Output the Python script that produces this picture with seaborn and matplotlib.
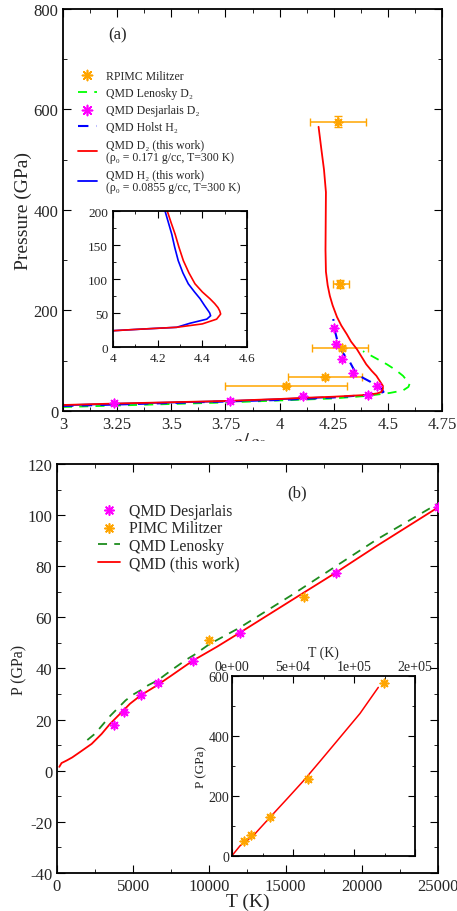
import matplotlib
matplotlib.use("Agg")
import matplotlib.pyplot as plt
from matplotlib.ticker import MultipleLocator, FuncFormatter
from matplotlib.patches import Rectangle
import seaborn as sns

# ---- panel (a): Hugoniot, pressure vs compression ----
d2_rho = [3.0, 3.25, 3.5, 3.75, 4.0, 4.1, 4.25, 4.4, 4.45, 4.47, 4.477, 4.477, 4.465, 4.447, 4.425,
          4.40, 4.357, 4.33, 4.31, 4.285, 4.265, 4.245, 4.232, 4.222, 4.214, 4.212, 4.213, 4.214, 4.205, 4.193, 4.18]
d2_p = [12, 15, 17.5, 20, 24, 26, 28.5, 32, 35, 38, 44, 50, 58, 70, 80,
        93, 123, 138, 153, 170, 187, 210, 229, 250, 277, 320, 380, 435, 480, 520, 565]
h2_rho = [3.0, 3.25, 3.5, 3.75, 4.0, 4.2]
h2_p = [11.5, 14.5, 17, 19.5, 23.5, 27]
ins_d2_rho = [4.0, 4.136, 4.285, 4.40, 4.464, 4.482, 4.478, 4.47, 4.455, 4.434, 4.40, 4.367, 4.34, 4.315, 4.295, 4.278, 4.26, 4.243]
ins_d2_p = [24, 26.5, 29, 34, 41, 48.5, 53, 58, 64, 71, 81, 93, 109, 127, 147, 166, 183, 200]
ins_h2_rho = [4.0, 4.136, 4.285, 4.345, 4.42, 4.437, 4.433, 4.427, 4.41, 4.39, 4.365, 4.337, 4.313, 4.292, 4.276, 4.263, 4.248, 4.233]
ins_h2_p = [24, 26.5, 29, 35, 41, 46, 50, 53, 61, 71, 81, 93, 109, 127, 147, 166, 183, 200]
holst_rho = [3.0, 3.25, 3.5, 3.75, 4.0, 4.25, 4.4, 4.46, 4.48, 4.47, 4.42, 4.385, 4.357, 4.34, 4.325,
             4.31, 4.29, 4.275, 4.265, 4.255, 4.248]
holst_p = [10, 13, 16, 19, 22, 27, 32, 35, 38, 44, 58, 66, 74, 85, 97, 105, 117, 130, 143, 160, 183]
lenosky_rho = [3.0, 3.25, 3.5, 3.75, 4.0, 4.25, 4.4, 4.51, 4.57, 4.595, 4.60, 4.585, 4.57, 4.535, 4.495, 4.44, 4.385]
lenosky_p = [8, 11, 14, 17, 21, 25, 30, 36, 41, 48, 54, 62, 70, 82, 93, 106, 119]
desj_rho = [3.235, 3.77, 4.11, 4.41, 4.45, 4.34, 4.29, 4.26, 4.25]
desj_p = [16, 20, 30, 32, 50, 76, 104, 133, 165]
rpimc_rho = [4.03, 4.21, 4.29, 4.28, 4.27]
rpimc_p = [50, 67, 126, 252, 575]
rpimc_xlo = [3.75, 4.04, 4.15, 4.245, 4.14]
rpimc_xhi = [4.31, 4.38, 4.41, 4.32, 4.40]
rpimc_perr = [3, 3, 4, 8, 11]

# ---- panel (b): pressure vs temperature ----
b_desj_t = [3750, 4400, 5500, 6600, 8900, 12000, 18300, 25000]
b_desj_p = [18, 23, 29.5, 34.5, 43, 54, 77.5, 103]
b_pimc_t = [10000, 16200]
b_pimc_p = [51, 68]
b_len_t = [1990, 2500, 3000, 3500, 4000, 4500, 5000, 5500, 6000, 6600, 7500, 8500, 9000, 10000,
           12000, 15480, 18300, 21000, 25000]
b_len_p = [12, 14.5, 18, 21.5, 24.5, 27.5, 29.8, 31.5, 33.5, 35.3, 39.3, 43.5, 45.3, 49.5,
           56, 69, 80, 90.5, 104.5]
b_red_t = [150, 300, 636, 1000, 1509, 2275, 2930, 3478, 4243, 4790, 5500, 6540, 7500, 8900,
           10500, 12000, 15480, 18300, 21000, 25000]
b_red_p = [1.5, 3, 4, 5.2, 7.3, 10.5, 14.4, 18.3, 22.9, 26.2, 29.5, 33.3, 37.2, 43,
           48.5, 54, 67, 77.5, 88, 103]
ins_t = [0, 1100, 6560, 17460, 31150, 45000, 58440, 72000, 85800, 104900, 119900]
ins_p = [0, 6.7, 34, 68, 129, 190, 250, 315, 382, 475, 562]
ins_pimc_t = [9840, 15570, 31150, 62570, 124800]
ins_pimc_p = [51, 71, 129, 257, 577]

ORANGE = "#FFA500"
MAGENTA = "#FF00FF"
AST = (8, 2, 0)

sns.set_style("ticks")
plt.rcParams["font.family"] = ["Liberation Serif", "DejaVu Serif"]
plt.rcParams["mathtext.fontset"] = "stix"
plt.rcParams["axes.linewidth"] = 1.3
plt.rcParams["axes.unicode_minus"] = False


def style(ax, xmaj, xmin, ymaj, ymin, size=9):
    ax.xaxis.set_major_locator(MultipleLocator(xmaj))
    ax.xaxis.set_minor_locator(MultipleLocator(xmin))
    ax.yaxis.set_major_locator(MultipleLocator(ymaj))
    ax.yaxis.set_minor_locator(MultipleLocator(ymin))
    ax.tick_params(which="both", direction="in", top=True, right=True, labelsize=size, color="black")
    ax.tick_params(which="major", length=6)
    ax.tick_params(which="minor", length=3)
    for s in ax.spines.values():
        s.set_color("black")


def line(x, y, ax, **kw):
    sns.lineplot(x=x, y=y, ax=ax, sort=False, estimator=None, **kw)


def stars(x, y, ax, color, s=36, **kw):
    sns.scatterplot(x=x, y=y, ax=ax, marker=AST, s=s, color=color, edgecolor=color, linewidth=1.2,
                    zorder=5, **kw)


fig = plt.figure(figsize=(4.57, 9.12), dpi=100)

# ---------- (a) ----------
ax = fig.add_axes([0.1379, 0.5482, 0.8293, 0.4413])
for lo, hi, x, y, e in zip(rpimc_xlo, rpimc_xhi, rpimc_rho, rpimc_p, rpimc_perr):
    ax.errorbar(x, y, xerr=[[x - lo], [hi - x]], yerr=e, fmt="none", ecolor=ORANGE, elinewidth=1.1, capsize=3)
stars(rpimc_rho, rpimc_p, ax, ORANGE, label="RPIMC Militzer")
line(lenosky_rho, lenosky_p, ax, color="#00FF00", linestyle=(0, (5, 4)), linewidth=1.3, label="QMD Lenosky D₂")
stars(desj_rho, desj_p, ax, MAGENTA, label="QMD Desjarlais D₂")
line(h2_rho, h2_p, ax, color="#0000FF", linewidth=1.3,
     label="QMD H₂ (this work)\n(ρ₀ = 0.0855 g/cc, T=300 K)")
line(holst_rho, holst_p, ax, color="#0000FF", linestyle=(0, (5, 4)), linewidth=1.5, label="QMD Holst H₂")
line(d2_rho, d2_p, ax, color="#FF0000", linewidth=1.3,
     label="QMD D₂ (this work)\n(ρ₀ = 0.171 g/cc, T=300 K)")
h, l = ax.get_legend_handles_labels()
order = [0, 1, 2, 4, 5, 3]
leg = ax.legend([h[i] for i in order], [l[i] for i in order], loc="upper left", bbox_to_anchor=(0.011, 0.875),
                frameon=False, fontsize=8.5, handlelength=1.6, handletextpad=0.8, labelspacing=0.45,
                markerscale=1.2)
for t in leg.get_texts():
    t.set_linespacing(1.05)
ax.set_xlim(3, 4.75)
ax.set_ylim(0, 800)
style(ax, 0.25, 0.125, 200, 100, size=12)
ax.set_xticks([3, 3.25, 3.5, 3.75, 4, 4.25, 4.5, 4.75])
ax.set_xticklabels(["3", "3.25", "3.5", "3.75", "4", "4.25", "4.5", "4.75"])
ax.set_ylabel("Pressure (GPa)", fontsize=14, labelpad=1)
ax.set_xlabel("")
ax.text(0.12, 0.925, "(a)", transform=ax.transAxes, fontsize=12)
xl = fig.text(0.545, 1 - 431 / 912, "$\\rho/\\rho_0$", fontsize=15, ha="center", va="top")
xl.set_clip_path(Rectangle((0, 1 - 442 / 912), 1, 442 / 912, transform=fig.transFigure))

# inset (a)
ai = fig.add_axes([0.2473, 0.6184, 0.2932, 0.1491])
line(ins_h2_rho, ins_h2_p, ai, color="#0000FF", linewidth=1.2)
line(ins_d2_rho, ins_d2_p, ai, color="#FF0000", linewidth=1.2)
ai.set_xlim(4, 4.6)
ai.set_ylim(0, 200)
style(ai, 0.2, 0.1, 50, 25, size=9.5)
ai.set_xticks([4, 4.2, 4.4, 4.6])
ai.set_xticklabels(["4", "4.2", "4.4", "4.6"])
ai.tick_params(which="major", length=5)
ai.tick_params(which="minor", length=2.5)

# ---------- (b) ----------
bx = fig.add_axes([0.1247, 0.0417, 0.8337, 0.4485])
stars(b_desj_t, b_desj_p, bx, MAGENTA, label="QMD Desjarlais")
stars(b_pimc_t, b_pimc_p, bx, ORANGE, label="PIMC Militzer")
line(b_len_t, b_len_p, bx, color="#1E8C1E", linestyle=(0, (5, 4)), linewidth=1.3, label="QMD Lenosky")
line(b_red_t, b_red_p, bx, color="#FF0000", linewidth=1.3, label="QMD (this work)")
bx.legend(loc="upper left", bbox_to_anchor=(0.07, 0.94), frameon=False, fontsize=11.3,
          handlelength=1.4, handletextpad=0.6, labelspacing=0.1, markerscale=1.1)
bx.set_xlim(0, 25000)
bx.set_ylim(-40, 120)
style(bx, 5000, 2500, 20, 10, size=12)
bx.set_xlabel("T (K)", fontsize=14, labelpad=-1)
bx.set_ylabel("P (GPa)", fontsize=11.5, labelpad=0)
bx.text(0.604, 0.93, "(b)", transform=bx.transAxes, fontsize=12, va="center")

# inset (b)
bi = fig.add_axes([0.5077, 0.0603, 0.4004, 0.1974])
line(ins_t, ins_p, bi, color="#FF0000", linewidth=1.1)
stars(ins_pimc_t, ins_pimc_p, bi, ORANGE)
bi.set_xlim(0, 150000)
bi.set_ylim(0, 600)
style(bi, 50000, 25000, 200, 100, size=10)
bi.tick_params(which="both", labelbottom=False, labeltop=True, pad=2)
bi.xaxis.set_major_formatter(FuncFormatter(lambda v, p: "{:.0e}".format(v)))
bi.xaxis.set_label_position("top")
bi.set_xlabel("T (K)", fontsize=10, labelpad=3)
bi.set_ylabel("P (GPa)", fontsize=9.5, labelpad=1)
bi.tick_params(which="major", length=5)
bi.tick_params(which="minor", length=2.5)

fig.savefig("out.png", dpi=100)
